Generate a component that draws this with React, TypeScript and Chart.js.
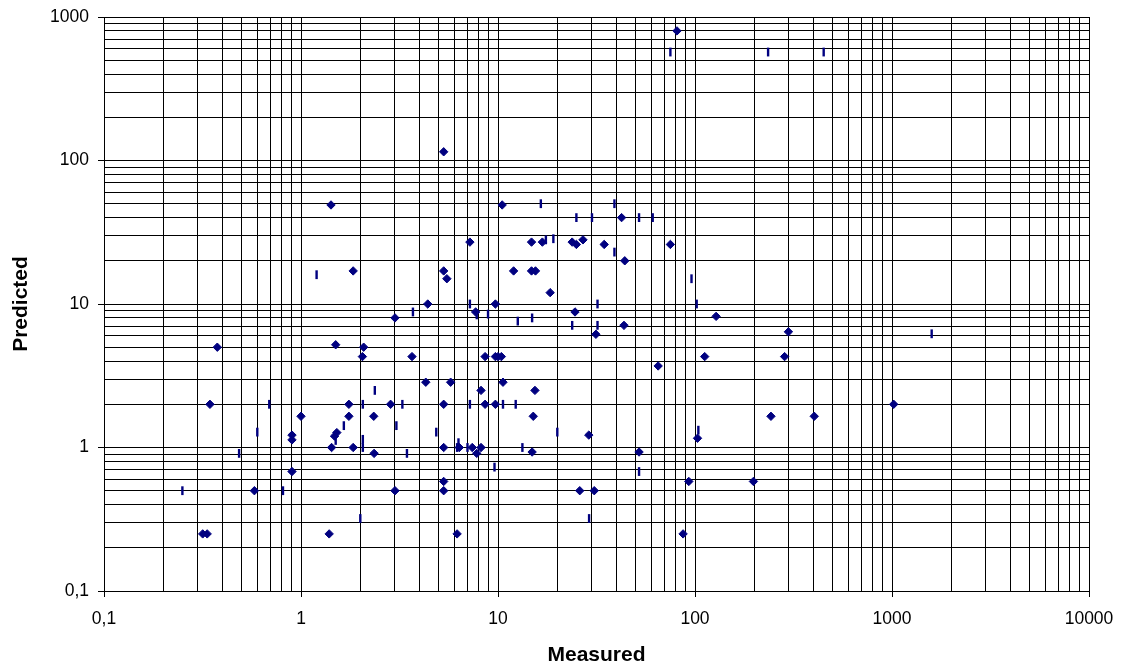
import React, { useEffect, useRef } from 'react';
import { Chart, registerables } from 'chart.js';

Chart.register(...registerables);

// Diamond series (Measured vs Predicted)
const diamondX = [
  81, 5.3, 1.42, 1.84, 3.0, 4.4, 5.3, 5.5, 7.2, 7.7,
  9.7, 10.5, 14.8, 16.8, 14.8, 15.5, 12, 18.4, 42.4, 23.8,
  25, 27, 34.6, 44, 75, 128, 24.6, 43.6, 298, 112,
  285, 1020, 243, 403, 103, 52, 198, 0.376, 0.345, 0.317,
  0.334, 0.58, 0.9, 0.9, 0.9, 1.0, 1.43, 1.39, 1.5, 1.48,
  1.52, 1.84, 1.75, 1.75, 2.08, 2.05, 2.34, 2.35, 2.85, 3.66,
  4.3, 3.0, 8.6, 9.7, 10, 10.4, 5.75, 10.6, 8.2, 15.4,
  5.3, 8.6, 9.7, 15.1, 28.9, 5.3, 6.36, 7.4, 7.8, 8.2,
  14.9, 5.3, 5.3, 26, 30.8, 93, 65, 31.4, 6.2, 87,
];
const diamondY = [
  800, 115, 49, 17, 8, 10, 17, 15, 27, 8.8,
  10, 49, 27, 27, 17, 17, 17, 12, 40, 27,
  26, 28, 26, 20, 26, 8.2, 8.8, 7.1, 6.4, 4.3,
  4.3, 2, 1.65, 1.65, 1.16, 0.93, 0.58, 5, 2, 0.25,
  0.25, 0.5, 1.22, 1.13, 0.68, 1.65, 1.0, 0.25, 5.2, 1.2,
  1.27, 1.0, 2, 1.65, 5, 4.3, 1.65, 0.91, 2, 4.3,
  2.85, 0.5, 4.3, 4.3, 4.3, 4.3, 2.85, 2.85, 2.5, 2.5,
  2, 2, 2, 1.65, 1.22, 1.0, 1.0, 1.0, 0.91, 1.0,
  0.93, 0.58, 0.5, 0.5, 0.5, 0.58, 3.7, 6.15, 0.25, 0.25,
];

// Dash series
const dashX = [
  1.2, 3.7, 7.2, 7.8, 8.9, 12.6, 14.9, 17.5, 16.5, 19.1,
  25, 30, 39, 52, 61, 39, 75, 96, 102, 32,
  23.8, 32, 235, 450, 104, 1590, 0.25, 0.485, 0.6, 0.69,
  0.81, 1.5, 1.65, 2.06, 2.06, 2.06, 2.0, 2.37, 3.27, 3.05,
  3.45, 4.86, 7.2, 10.6, 12.3, 20, 6.3, 6.2, 7.0, 13.3,
  9.6, 52, 29,
];
const dashY = [
  16, 8.8, 10, 8.4, 8.5, 7.6, 8, 28, 50, 28.5,
  40, 40, 50, 40, 40, 23, 570, 15, 10, 10,
  7.1, 7.1, 570, 570, 1.32, 6.2, 0.5, 0.91, 1.28, 2,
  0.5, 1.12, 1.42, 2, 1.14, 1.0, 0.32, 2.5, 2, 1.42,
  0.91, 1.28, 2, 2, 2, 1.28, 1.08, 1.0, 1.0, 1.0,
  0.73, 0.68, 0.32,
];

// Axis ranges and labels
const xMin = 0.1;
const xMax = 10000;
const yMin = 0.1;
const yMax = 1000;
const xMajorValues = [0.1, 1, 10, 100, 1000, 10000];
const xTickLabels = ['0,1', '1', '10', '100', '1000', '10000'];
const yMajorValues = [0.1, 1, 10, 100, 1000];
const yTickLabels = ['0,1', '1', '10', '100', '1000'];
const xTitle = 'Measured';
const yTitle = 'Predicted';

const NAVY = '#000080';
const FONT = "'Liberation Sans', Arial, sans-serif";

function logGrid(min: number, max: number): number[] {
  const out: number[] = [];
  const e0 = Math.round(Math.log10(min));
  const e1 = Math.round(Math.log10(max));
  for (let e = e0; e < e1; e++) {
    for (let m = 1; m < 10; m++) {
      out.push(+(m * Math.pow(10, e)).toPrecision(6));
    }
  }
  out.push(max);
  return out;
}

export default function App() {
  const canvasRef = useRef<HTMLCanvasElement | null>(null);

  useEffect(() => {
    const canvas = canvasRef.current;
    if (!canvas) return;

    const diamonds = diamondX.map((x, i) => ({ x, y: diamondY[i] }));
    const dashes = dashX.map((x, i) => ({ x, y: dashY[i] }));

    const tickColor = (ctx: any) => (ctx.tick && ctx.tick.major ? '#000' : 'rgba(0,0,0,0)');

    const chart = new Chart(canvas, {
      type: 'scatter',
      data: {
        datasets: [
          {
            label: 'Diamonds',
            data: diamonds,
            pointStyle: 'rectRot',
            pointRadius: 4.2,
            pointHoverRadius: 4.2,
            backgroundColor: NAVY,
            borderColor: NAVY,
            borderWidth: 1,
            showLine: false,
          },
          {
            label: 'Dashes',
            data: dashes,
            pointStyle: 'line',
            pointRotation: 90,
            pointRadius: 4.4,
            pointHoverRadius: 4.4,
            backgroundColor: NAVY,
            borderColor: NAVY,
            borderWidth: 2.4,
            showLine: false,
          },
        ],
      },
      options: {
        responsive: false,
        animation: false,
        events: [],
        layout: { padding: { top: 17, right: 32, left: 0, bottom: 0 } },
        plugins: {
          legend: { display: false },
          tooltip: { enabled: false },
        },
        scales: {
          x: {
            type: 'logarithmic',
            position: 'bottom',
            min: xMin,
            max: xMax,
            afterBuildTicks: (scale: any) => {
              scale.ticks = logGrid(xMin, xMax).map((v) => ({
                value: v,
                major: xMajorValues.includes(v),
              }));
            },
            afterFit: (scale: any) => {
              scale.height = 73;
              scale.paddingLeft = 0;
              scale.paddingRight = 0;
            },
            grid: {
              color: '#000',
              lineWidth: 1,
              drawTicks: true,
              tickLength: 6,
              tickColor,
              tickWidth: 1,
            },
            border: { display: true, color: '#000', width: 1 },
            ticks: {
              autoSkip: false,
              maxRotation: 0,
              minRotation: 0,
              padding: 12,
              color: '#000',
              font: { family: FONT, size: 17.5 },
              callback: (value: any) => {
                const i = xMajorValues.indexOf(Number(value));
                return i >= 0 ? xTickLabels[i] : '';
              },
            },
            title: {
              display: true,
              text: xTitle,
              color: '#000',
              padding: { top: 0, bottom: 0 },
              font: { family: FONT, size: 21, weight: 'bold', lineHeight: 0.8 },
            },
          },
          y: {
            type: 'logarithmic',
            position: 'left',
            min: yMin,
            max: yMax,
            afterBuildTicks: (scale: any) => {
              scale.ticks = logGrid(yMin, yMax).map((v) => ({
                value: v,
                major: yMajorValues.includes(v),
              }));
            },
            afterFit: (scale: any) => {
              scale.width = 104;
              scale.paddingTop = 0;
              scale.paddingBottom = 0;
            },
            grid: {
              color: '#000',
              lineWidth: 1,
              drawTicks: true,
              tickLength: 6,
              tickColor,
              tickWidth: 1,
            },
            border: { display: true, color: '#000', width: 1 },
            ticks: {
              autoSkip: false,
              padding: 9,
              color: '#000',
              font: { family: FONT, size: 17.5 },
              callback: (value: any) => {
                const i = yMajorValues.indexOf(Number(value));
                return i >= 0 ? yTickLabels[i] : '';
              },
            },
            title: {
              display: true,
              text: yTitle,
              color: '#000',
              padding: { top: 9, bottom: 0 },
              font: { family: FONT, size: 21, weight: 'bold' },
            },
          },
        },
      },
    } as any);

    return () => {
      chart.destroy();
    };
  }, []);

  return (
    <canvas
      ref={canvasRef}
      width={1121}
      height={664}
      style={{ position: 'fixed', left: 0, top: 0, width: 1121, height: 664, display: 'block', background: '#fff' }}
    />
  );
}
